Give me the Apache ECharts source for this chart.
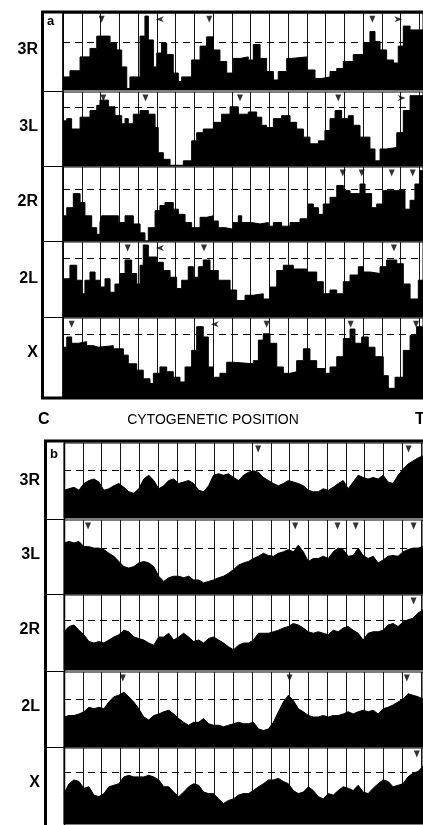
<!DOCTYPE html>
<html><head><meta charset="utf-8">
<script src="https://cdn.jsdelivr.net/npm/echarts@6/dist/echarts.min.js"></script>
<style>html,body{margin:0;padding:0;background:#fff}#c{width:423px;height:825px}</style>
</head><body><div id="c"></div>
<script>
// ---------- DATA ----------
const armLabels = ['3R', '3L', '2R', '2L', 'X'];
const xTitle = 'CYTOGENETIC POSITION';
const endLabels = ['C', 'T'];
const panelLetters = ['a', 'b'];

// panel a: step profiles [division position, relative height %]
const a3R = [[0,17],[0.37,25],[0.91,43],[1.44,54],[1.8,70],[2.51,61],[2.86,52],[3.13,30],[3.4,2],[3.57,17],[4.11,70],[4.37,96],[4.55,65],[4.82,30],[5.0,48],[5.26,61],[5.53,46],[5.88,22],[6.15,11],[6.33,17],[6.86,39],[7.31,57],[7.66,69],[8.02,52],[8.37,37],[8.73,22],[9.08,41],[9.44,43],[9.88,39],[10.15,59],[10.51,41],[10.86,24],[11.22,13],[11.48,24],[11.93,41],[12.2,43],[13.0,26],[13.44,15],[13.8,17],[14.24,24],[14.6,28],[14.95,37],[15.48,46],[16.02,61],[16.37,76],[16.64,63],[16.91,52],[17.26,39],[17.62,35],[17.88,57],[18.15,83],[18.51,78]];
const a3L = [[0,61],[0.2,64],[0.46,50],[0.91,66],[1.44,75],[1.8,82],[1.97,89],[2.42,80],[2.77,68],[3.13,57],[3.31,64],[3.48,57],[3.75,70],[4.11,75],[4.55,70],[4.91,52],[5.08,18],[5.35,9],[5.71,1],[6.42,7],[6.86,34],[7.13,45],[7.48,50],[8.02,59],[8.46,70],[8.91,80],[9.35,70],[9.88,73],[10.33,66],[10.6,55],[10.86,52],[11.22,64],[11.66,68],[12.11,59],[12.46,50],[12.82,39],[13.17,30],[13.62,34],[13.97,48],[14.24,64],[14.51,75],[14.86,64],[15.22,68],[15.48,55],[15.84,39],[16.37,23],[16.64,7],[16.91,23],[17.26,25],[17.8,45],[18.15,75],[18.51,95]];
const a2R = [[0,34],[0.2,45],[0.55,64],[0.91,52],[1.17,34],[1.53,18],[1.8,9],[1.97,25],[2.06,34],[2.95,25],[3.31,34],[3.75,23],[4.11,11],[4.37,0],[4.55,18],[4.91,41],[5.17,48],[5.44,52],[5.88,43],[6.15,36],[6.51,25],[6.86,18],[7.31,32],[7.66,34],[8.02,27],[8.28,18],[8.64,16],[9.08,25],[9.35,34],[9.53,25],[10.06,23],[10.51,25],[10.95,20],[11.22,25],[11.66,20],[12.11,25],[12.64,30],[13.08,50],[13.35,45],[13.62,36],[13.88,50],[14.24,59],[14.6,75],[14.95,68],[15.31,64],[15.84,77],[16.11,64],[16.46,45],[16.73,50],[17.08,68],[18.24,43],[18.51,55],[18.77,77],[19.04,95]];
const a2L = [[0,51],[0.37,69],[0.73,49],[1.0,31],[1.17,49],[1.44,60],[1.71,49],[1.97,40],[2.24,51],[2.51,33],[2.77,44],[3.04,58],[3.31,76],[3.66,58],[3.93,44],[4.11,69],[4.28,96],[4.55,80],[5.0,73],[5.35,62],[5.71,53],[6.06,38],[6.33,49],[6.68,67],[6.95,53],[7.22,67],[7.48,76],[7.84,62],[8.28,49],[8.91,36],[9.26,22],[9.71,29],[10.15,31],[10.68,24],[11.04,40],[11.4,62],[11.75,69],[12.28,64],[13.0,60],[13.53,47],[13.88,31],[14.24,36],[14.6,31],[14.95,47],[15.31,56],[15.75,67],[16.02,60],[16.37,58],[16.91,67],[17.26,76],[17.8,71],[18.15,44],[18.51,24],[18.95,49]];
const aX = [[0,63],[0.2,76],[0.46,68],[0.82,70],[1.26,65],[1.62,63],[1.88,65],[2.68,61],[3.22,53],[3.48,42],[3.93,34],[4.28,23],[4.64,17],[4.82,30],[5.17,38],[5.53,32],[5.88,25],[6.24,19],[6.51,38],[6.86,59],[7.13,89],[7.48,76],[7.75,38],[8.02,25],[8.37,30],[8.73,44],[9.08,42],[10.15,46],[10.42,72],[10.68,80],[11.04,68],[11.4,38],[11.75,30],[12.11,32],[12.46,46],[12.82,61],[13.17,46],[13.53,36],[13.97,30],[14.24,38],[14.6,51],[14.95,74],[15.31,86],[15.57,68],[15.93,76],[16.28,63],[16.64,51],[17.08,27],[17.35,11],[17.71,25],[18.15,59],[18.51,78],[18.86,89]];

// panel b: evenly spaced samples along the arm, relative height %
const b3R = [37,39,41,37,46,50,52,48,37,39,43,46,41,35,33,39,52,57,50,39,43,50,52,46,48,50,46,37,35,43,57,59,57,59,54,50,57,61,63,61,54,50,46,43,46,50,48,46,43,37,35,35,39,37,41,46,50,39,48,57,54,52,54,52,57,48,46,57,65,72,76,80,83];
const b3L = [69,71,69,71,64,64,62,62,60,55,51,44,37,35,37,42,44,42,37,24,17,22,24,24,22,24,19,19,15,17,19,22,24,28,33,39,42,44,48,51,55,52,51,55,57,60,57,66,57,44,48,48,51,48,57,62,60,51,52,62,52,48,51,42,46,51,52,51,57,60,62,62,64];
const b2R = [51,58,60,53,47,38,36,38,36,40,44,47,53,51,44,42,40,36,33,44,44,49,40,44,49,44,38,40,36,42,44,40,36,31,27,33,36,36,40,49,49,49,51,53,56,58,62,60,56,51,49,51,49,47,53,51,56,58,53,49,40,49,51,51,53,60,62,58,64,67,69,76,80];
const b2L = [40,42,42,44,47,53,51,53,51,60,67,69,73,67,60,51,40,36,42,44,47,49,44,38,33,29,33,33,38,31,29,29,27,29,31,33,31,31,33,24,22,24,33,47,60,69,62,51,47,42,40,40,42,40,42,42,44,47,44,47,49,47,49,44,51,53,56,60,64,71,69,67,64];
const bX = [40,53,58,56,47,49,38,36,40,49,51,53,62,64,62,62,62,64,62,58,49,49,42,36,42,49,53,51,42,40,40,33,27,31,33,38,40,40,44,49,53,58,58,60,56,53,44,40,42,49,44,36,33,40,38,44,49,47,44,51,42,40,47,53,58,56,49,51,53,62,67,69,76];

// reference (dashed) levels, %
const aDash = [62, 80, 70, 79, 79];
const bDash = [64, 62, 67, 64, 68];

// marker positions (division units)
const aTriangles = [[2.06,7.8,16.5],[2.15,4.4,9.44,14.68],[14.92,15.93,17.53,18.65],[3.45,7.52,17.65],[0.46,10.86,15.34,18.83]];
const aLeftArrows = [[5.17],[],[],[5.17],[8.1]];
const aRightArrows = [[17.88],[18.06],[],[],[]];
const bTriangles = [[10.33,18.33],[1.28,12.3,14.55,15.52,18.6],[18.6],[3.13,12.0,18.24],[18.77]];

// ---------- BUILD ----------
const aData = [a3R, a3L, a2R, a2L, aX];
const bData = [b3R, b3L, b2R, b2L, bX];
const aRows = [{top:13,h:77},{top:92,h:74},{top:167,h:74},{top:242,h:75},{top:318,h:79}];
const bRows = [{top:443,h:75},{top:520,h:74},{top:595,h:75},{top:672,h:75},{top:748,h:76}];
const A_MAX = 19.2, B_MAX = 19.1;

const grid = [], xAxis = [], yAxis = [], series = [];
const MARKER_Y = 92;

function valX(gi, max) {
  return {type:'value', gridIndex:gi, min:0, max:max, interval:1,
    axisLine:{show:false}, axisTick:{show:false}, axisLabel:{show:false},
    splitLine:{show:true, lineStyle:{color:'#151515', width:1}}};
}
function addMarkers(xi, yi, arr, symbol, rot, size) {
  if (!arr.length) return;
  series.push({type:'scatter', xAxisIndex:xi, yAxisIndex:yi, symbol:symbol, symbolRotate:rot,
    symbolSize:size, itemStyle:{color:'#000'}, z:5, silent:true,
    data:arr.map(p => [p, MARKER_Y])});
}
const dashLine = (v) => ({silent:true, symbol:'none', label:{show:false},
  lineStyle:{color:'#000', type:[7,5], width:1}, data:[{yAxis:v}]});

// panel a
aData.forEach((d, i) => {
  const gi = grid.length;
  grid.push({left:63, right:0, top:aRows[i].top, height:aRows[i].h, show:true, borderColor:'#000', borderWidth:1, backgroundColor:'#fff'});
  const xi = xAxis.length; xAxis.push(valX(gi, A_MAX));
  const yi = yAxis.length; yAxis.push({type:'value', gridIndex:gi, min:0, max:100, show:false});
  const pts = d.concat([[A_MAX, d[d.length-1][1]]]);
  series.push({type:'line', xAxisIndex:xi, yAxisIndex:yi, step:'end', data:pts, symbol:'none',
    lineStyle:{color:'#000', width:1}, areaStyle:{color:'#000', opacity:1}, z:2, silent:true,
    markLine:dashLine(aDash[i])});
  addMarkers(xi, yi, aTriangles[i], 'triangle', 180, [6,7]);
  addMarkers(xi, yi, aLeftArrows[i], 'path://M0,5 L10,0 L7,5 L10,10 Z', 0, [8,6]);
  addMarkers(xi, yi, aRightArrows[i], 'path://M10,5 L0,0 L3,5 L0,10 Z', 0, [8,6]);
});
// panel b
bData.forEach((d, i) => {
  const gi = grid.length;
  grid.push({left:64, right:0, top:bRows[i].top, height:bRows[i].h, show:true, borderColor:'#000', borderWidth:1, backgroundColor:'#fff'});
  const xv = xAxis.length; xAxis.push(valX(gi, B_MAX));
  const xc = xAxis.length; xAxis.push({type:'category', gridIndex:gi, boundaryGap:false, show:false, data:d.map((_, k) => k)});
  const yi = yAxis.length; yAxis.push({type:'value', gridIndex:gi, min:0, max:100, show:false});
  series.push({type:'line', xAxisIndex:xc, yAxisIndex:yi, data:d, symbol:'none',
    lineStyle:{color:'#000', width:1}, areaStyle:{color:'#000', opacity:1}, z:2, silent:true,
    markLine:dashLine(bDash[i])});
  addMarkers(xv, yi, bTriangles[i], 'triangle', 180, [6,7]);
});

const FONT = '"Liberation Sans", Arial, sans-serif';
const graphic = [];
function txt(t, x, y, size, weight, align) {
  graphic.push({type:'text', x:x, y:y, z:20, silent:true, style:{text:t, fontSize:size, fontWeight:weight,
    fontFamily:FONT, fill:'#000', textAlign:align || 'left', textVerticalAlign:'middle'}});
}
function line(x1, y1, x2, y2, w) {
  graphic.push({type:'line', z:15, silent:true, shape:{x1, y1, x2, y2}, style:{stroke:'#000', lineWidth:w || 1}});
}
// frames
graphic.push({type:'rect', z:16, silent:true, shape:{x:42.5, y:12, width:400, height:386}, style:{fill:'none', stroke:'#000', lineWidth:3}});
graphic.push({type:'rect', z:16, silent:true, shape:{x:45.5, y:441, width:400, height:420}, style:{fill:'none', stroke:'#000', lineWidth:3}});
line(63, 12, 63, 398, 1.5);
line(64.5, 441, 64.5, 825, 1.5);
// strip separators
aRows.slice(1).forEach(r => line(43, r.top - 0.5, 63, r.top - 0.5, 1));
bRows.slice(1).forEach(r => line(46, r.top - 0.5, 64, r.top - 0.5, 1));
// arm labels
const aLabelY = [50, 127, 202, 279, 353];
const bLabelY = [481, 555, 630, 707, 783];
armLabels.forEach((l, i) => { txt(l, 38, aLabelY[i], 16, 'bold', 'right'); txt(l, 40, bLabelY[i], 16, 'bold', 'right'); });
txt(panelLetters[0], 47, 21, 13, 'bold');
txt(panelLetters[1], 50, 454, 13, 'bold');
txt(endLabels[0], 38, 420, 16, 'bold');
txt(xTitle, 213, 420, 14, 'normal', 'center');
txt(endLabels[1], 415, 420, 16, 'bold');

const chart = echarts.init(document.getElementById('c'), null, {renderer:'canvas'});
chart.setOption({animation:false, backgroundColor:'#fff', grid, xAxis, yAxis, series, graphic});
</script>
</body></html>
